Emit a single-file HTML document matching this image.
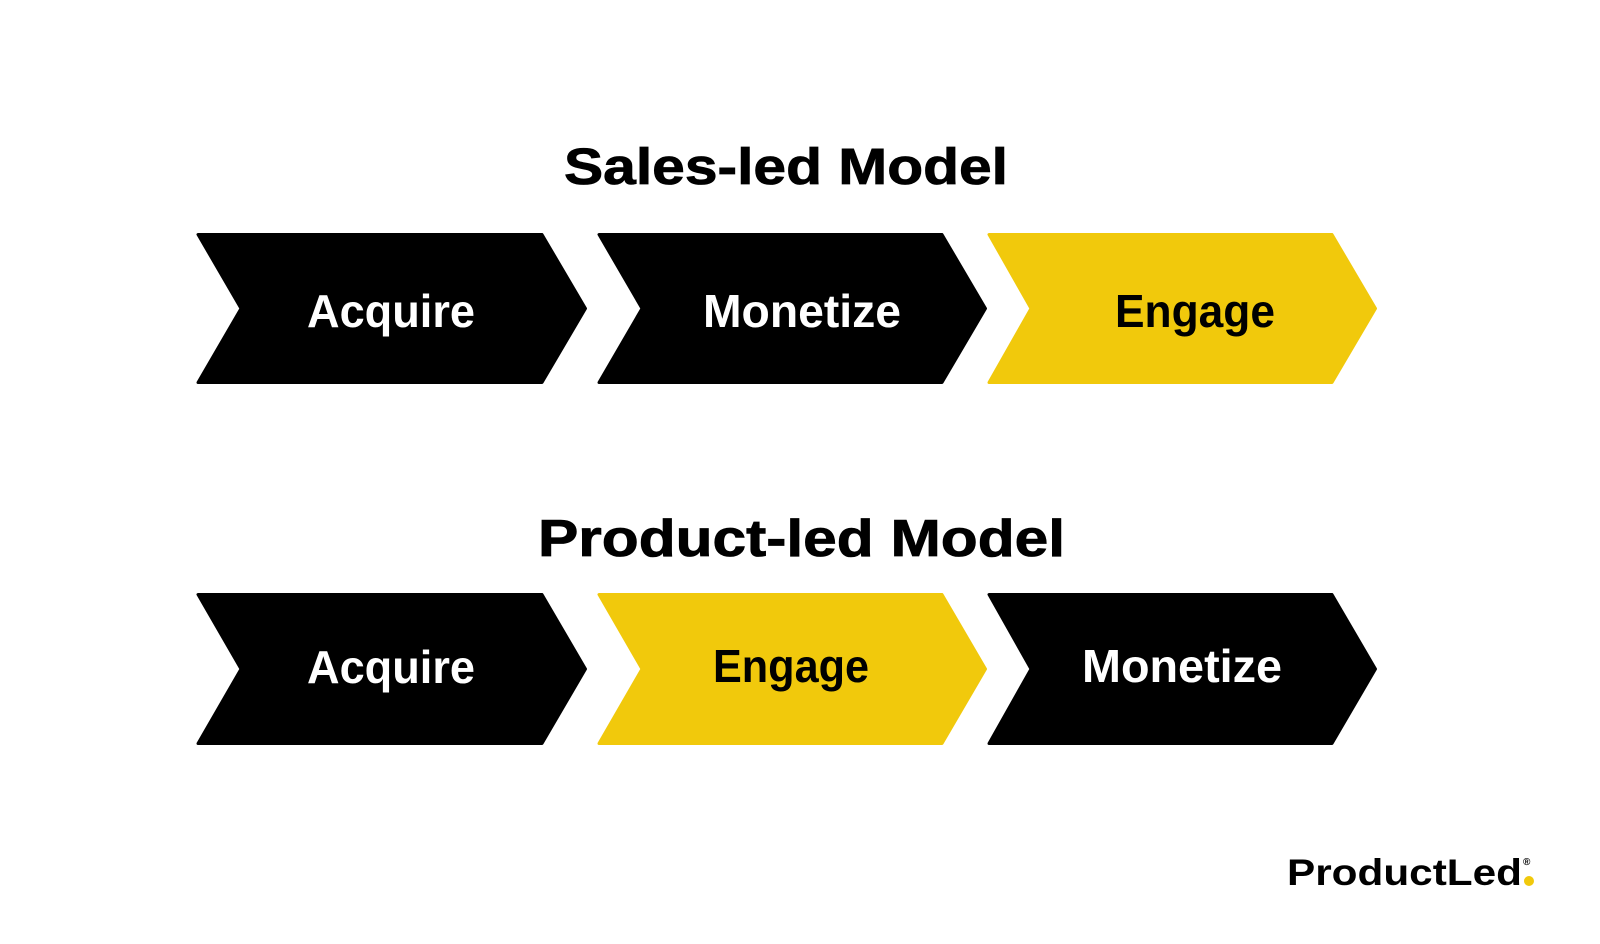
<!DOCTYPE html>
<html>
<head>
<meta charset="utf-8">
<style>
  html,body{margin:0;padding:0;background:#fff;}
  svg{display:block;}
  text{font-family:"Liberation Sans",Arial,sans-serif;font-weight:bold;}
</style>
</head>
<body>
<svg width="1600" height="944" viewBox="0 0 1600 944" xmlns="http://www.w3.org/2000/svg">
  <rect width="1600" height="944" fill="#fff"/>

  <!-- Titles -->
  <text x="564" y="184" font-size="51" fill="#000" stroke="#000" stroke-width="0.8" textLength="444" lengthAdjust="spacingAndGlyphs">Sales-led Model</text>
  <text x="538" y="556" font-size="52" fill="#000" stroke="#000" stroke-width="0.8" textLength="527" lengthAdjust="spacingAndGlyphs">Product-led Model</text>

  <!-- Row 1 -->
  <g stroke-linejoin="round" stroke-width="3">
    <polygon points="198,234.5 542,234.5 585.5,308.5 542,382.5 198,382.5 241,308.5" fill="#000" stroke="#000"/>
    <polygon points="599,234.5 942,234.5 985.5,308.5 942,382.5 599,382.5 642,308.5" fill="#000" stroke="#000"/>
    <polygon points="989,234.5 1332,234.5 1375.5,308.5 1332,382.5 989,382.5 1031,308.5" fill="#F1C90C" stroke="#F1C90C"/>
  </g>
  <text x="307" y="327" font-size="46" fill="#fff" textLength="168" lengthAdjust="spacingAndGlyphs">Acquire</text>
  <text x="703" y="327" font-size="46" fill="#fff" textLength="198" lengthAdjust="spacingAndGlyphs">Monetize</text>
  <text x="1115" y="327" font-size="46" fill="#000" textLength="160" lengthAdjust="spacingAndGlyphs">Engage</text>

  <!-- Row 2 -->
  <g stroke-linejoin="round" stroke-width="3">
    <polygon points="198,594.5 542,594.5 585.5,669 542,743.5 198,743.5 241,669" fill="#000" stroke="#000"/>
    <polygon points="599,594.5 942,594.5 985.5,669 942,743.5 599,743.5 642,669" fill="#F1C90C" stroke="#F1C90C"/>
    <polygon points="989,594.5 1332,594.5 1375.5,669 1332,743.5 989,743.5 1031,669" fill="#000" stroke="#000"/>
  </g>
  <text x="307" y="683" font-size="46" fill="#fff" textLength="168" lengthAdjust="spacingAndGlyphs">Acquire</text>
  <text x="713" y="682" font-size="46" fill="#000" textLength="156" lengthAdjust="spacingAndGlyphs">Engage</text>
  <text x="1082" y="682" font-size="46" fill="#fff" textLength="200" lengthAdjust="spacingAndGlyphs">Monetize</text>

  <!-- Logo -->
  <text x="1287" y="885" font-size="37" fill="#000" textLength="235" lengthAdjust="spacingAndGlyphs">ProductLed</text>
  <circle cx="1529" cy="881" r="5" fill="#F1C90C"/>
  <text x="1523" y="865" font-size="10" fill="#000">®</text>
</svg>
</body>
</html>
